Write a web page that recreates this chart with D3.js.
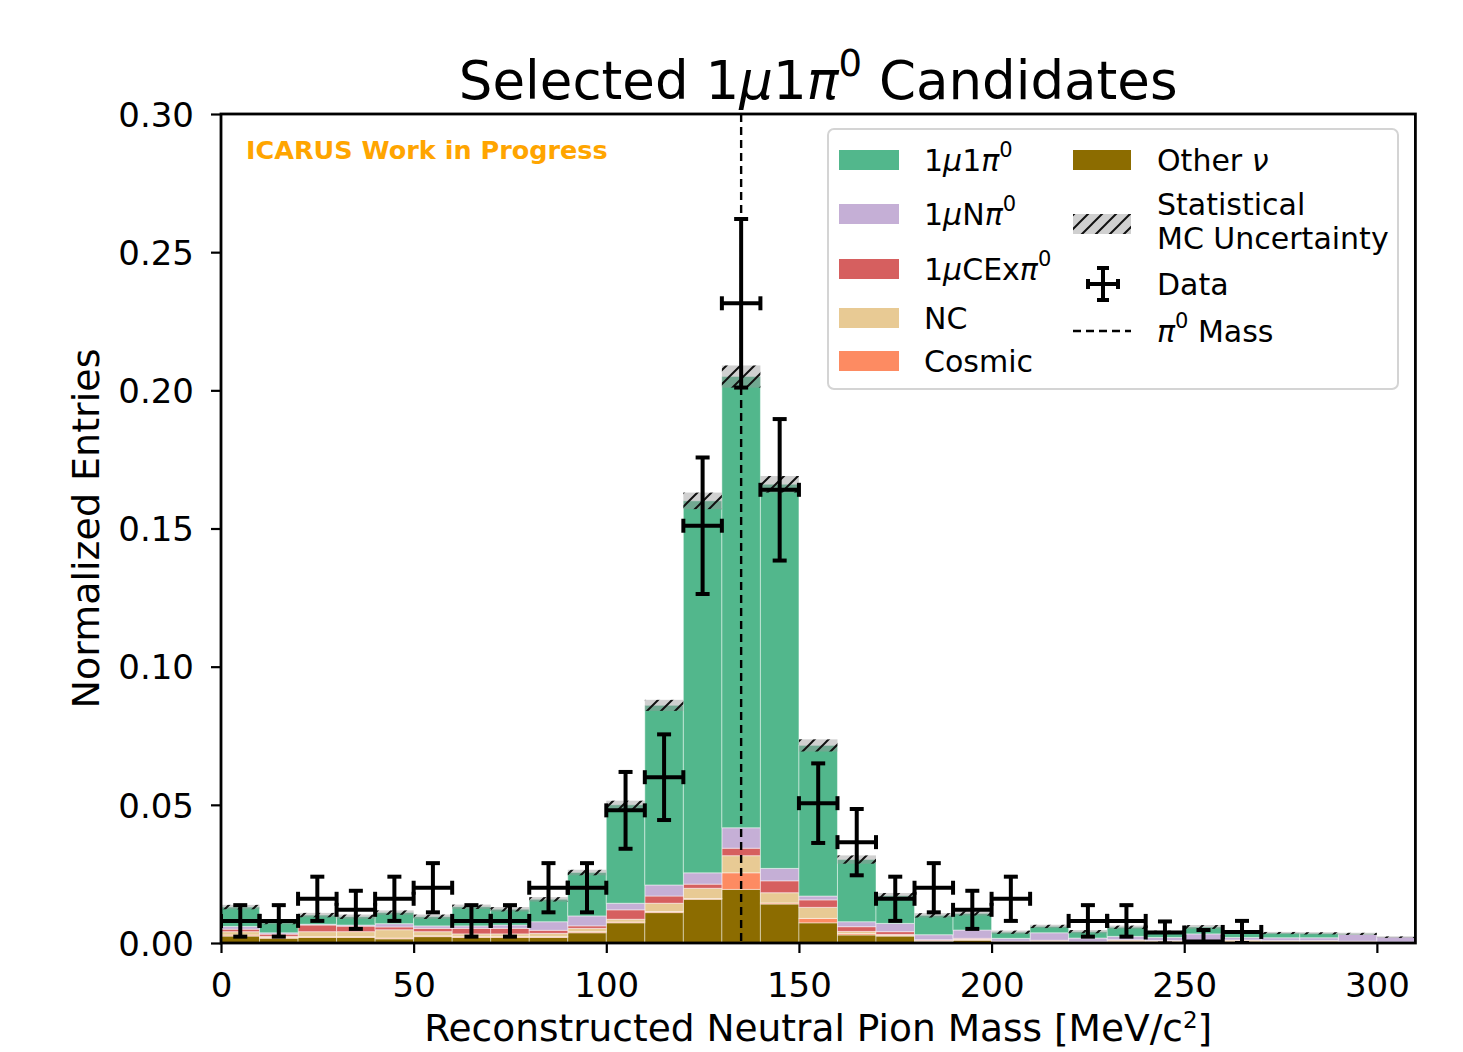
<!DOCTYPE html>
<html>
<head>
<meta charset="utf-8">
<script src="https://cdn.jsdelivr.net/npm/d3@7"></script>
<style>
  html, body { margin: 0; padding: 0; background: #fff; }
  svg { display: block; font-family: "DejaVu Sans", sans-serif; }
</style>
</head>
<body>
<svg id="chart" width="1463" height="1052"></svg>
<script>
// Bin lower edges (MeV/c^2), 10 MeV wide
const binLow = d3.range(0, 310, 10);
const binWidth = 10;

// MC stack components per bin (normalized entries)
const otherNu = [.0025,.0017,.0020,.0020,.0015,.0023,.0020,.0020,.0020,.0037,.0073,.0110,.0158,.0194,.0141,.0073,.0029,.0025,.0006,.0010,.0002,.0004,.0002,.0004,.0003,.0004,.0003,.0002,.0002,.0002,.0001];
const cosmic  = [.0004,.0003,.0003,.0003,.0003,.0003,.0004,.0004,.0003,.0004,.0003,.0004,.0003,.0060,.0004,.0016,.0005,.0003,.0000,.0002,.0000,.0000,.0000,.0000,.0000,.0000,.0000,.0000,.0000,.0000,.0000];
const nc      = [.0012,.0004,.0018,.0018,.0030,.0015,.0009,.0009,.0012,.0012,.0010,.0030,.0037,.0062,.0037,.0040,.0008,.0003,.0003,.0002,.0003,.0004,.0002,.0006,.0005,.0003,.0007,.0006,.0006,.0004,.0002];
const cex     = [.0009,.0008,.0024,.0020,.0010,.0012,.0020,.0020,.0011,.0009,.0034,.0026,.0015,.0027,.0043,.0027,.0017,.0010,.0003,.0003,.0002,.0002,.0001,.0002,.0001,.0001,.0001,.0001,.0001,.0001,.0001];
const nPi0    = [.0010,.0005,.0003,.0004,.0012,.0009,.0009,.0012,.0031,.0036,.0024,.0040,.0041,.0074,.0045,.0014,.0018,.0030,.0018,.0030,.0010,.0027,.0013,.0012,.0011,.0025,.0009,.0010,.0010,.0024,.0017];
const signal  = [.0070,.0038,.0033,.0030,.0040,.0033,.0069,.0057,.0081,.0157,.0356,.0650,.1346,.1633,.1390,.0545,.0225,.0100,.0070,.0060,.0022,.0023,.0023,.0033,.0020,.0025,.0018,.0017,.0016,.0002,.0000];

// Statistical MC uncertainty on the stacked total
const mcErr   = [.0008,.0007,.0008,.0008,.0008,.0008,.0008,.0008,.0008,.0010,.0015,.0020,.0030,.0040,.0030,.0022,.0015,.0010,.0008,.0008,.0006,.0006,.0006,.0006,.0005,.0007,.0005,.0004,.0004,.0004,.0003];

// Data points and their errors (null = empty bin)
const dataVal = [.008,.008,.016,.012,.016,.020,.008,.008,.020,.020,.048,.060,.151,.2315,.164,.0506,.0365,.016,.020,.012,.016,null,.008,.008,.0038,.0005,.004,null,null,null,null];
const dataErr = [.0057,.0057,.008,.0069,.008,.0089,.0057,.0057,.0089,.0089,.0139,.0155,.0247,.0305,.0256,.0144,.012,.008,.0089,.0069,.008,null,.0057,.0057,.004,.0042,.004,null,null,null,null];

const xTicks = [0, 50, 100, 150, 200, 250, 300];
const yTicks = [0, 0.05, 0.10, 0.15, 0.20, 0.25, 0.30];
const pi0Mass = 135;

const keys = ["other", "cosmic", "nc", "cex", "npi", "sig"];
const colors = {
  sig: "#52b78c", npi: "#c5afd6", cex: "#d65f5f",
  nc: "#e8ca94", cosmic: "#fd8b62", other: "#8c6c00"
};

const rows = binLow.map((b, i) => ({
  x0: b, other: otherNu[i], cosmic: cosmic[i], nc: nc[i],
  cex: cex[i], npi: nPi0[i], sig: signal[i],
  err: mcErr[i], d: dataVal[i], de: dataErr[i]
}));

const svg = d3.select("#chart");
const L = 221, R = 1415.4, T = 114, B = 943;
const x = d3.scaleLinear().domain([0, 310]).range([L, R]);
const y = d3.scaleLinear().domain([0, 0.30]).range([B, T]);

// hatch pattern for uncertainty band
const defs = svg.append("defs");
const pat = defs.append("pattern").attr("id", "hatch")
  .attr("patternUnits", "userSpaceOnUse").attr("width", 14).attr("height", 14);
pat.append("rect").attr("width", 14).attr("height", 14).attr("fill", "rgba(150,150,150,0.45)");
pat.append("path").attr("d", "M-3,3 l6,-6 M0,14 l14,-14 M11,17 l6,-6")
  .attr("stroke", "#111").attr("stroke-width", 2);
defs.append("clipPath").attr("id", "plotClip")
  .append("rect").attr("x", L).attr("y", T).attr("width", R - L).attr("height", B - T);

const plot = svg.append("g").attr("clip-path", "url(#plotClip)");

// stacked MC histogram
const series = d3.stack().keys(keys)(rows);
plot.selectAll("g.layer").data(series).join("g").attr("class", "layer")
  .attr("fill", d => colors[d.key])
  .selectAll("rect").data(d => d).join("rect")
  .attr("x", d => x(d.data.x0))
  .attr("width", d => x(d.data.x0 + binWidth) - x(d.data.x0))
  .attr("y", d => y(d[1]))
  .attr("height", d => Math.max(0, y(d[0]) - y(d[1])))
  .attr("stroke", "rgba(255,255,255,0.45)").attr("stroke-width", 1);

// statistical MC uncertainty band
const total = r => keys.reduce((s, k) => s + r[k], 0);
plot.selectAll("rect.unc").data(rows).join("rect").attr("class", "unc")
  .attr("x", d => x(d.x0))
  .attr("width", d => x(d.x0 + binWidth) - x(d.x0))
  .attr("y", d => y(total(d) + d.err))
  .attr("height", d => y(total(d) - d.err) - y(total(d) + d.err))
  .attr("fill", "url(#hatch)");

// pi0 mass line
plot.append("line").attr("x1", x(pi0Mass)).attr("x2", x(pi0Mass))
  .attr("y1", T).attr("y2", B)
  .attr("stroke", "#000").attr("stroke-width", 2.4).attr("stroke-dasharray", "8,5");

// data with error bars
const pts = rows.filter(r => r.d !== null);
const eb = plot.selectAll("g.data").data(pts).join("g").attr("class", "data")
  .attr("stroke", "#000").attr("stroke-width", 4);
const cx = d => x(d.x0 + binWidth / 2);
eb.append("line").attr("x1", d => x(d.x0)).attr("x2", d => x(d.x0 + binWidth))
  .attr("y1", d => y(d.d)).attr("y2", d => y(d.d));
eb.append("line").attr("x1", cx).attr("x2", cx)
  .attr("y1", d => y(d.d - d.de)).attr("y2", d => y(d.d + d.de));
const capH = 7, capW = 7;
eb.append("line").attr("x1", d => cx(d) - capW).attr("x2", d => cx(d) + capW)
  .attr("y1", d => y(d.d + d.de)).attr("y2", d => y(d.d + d.de));
eb.append("line").attr("x1", d => cx(d) - capW).attr("x2", d => cx(d) + capW)
  .attr("y1", d => y(d.d - d.de)).attr("y2", d => y(d.d - d.de));
eb.append("line").attr("x1", d => x(d.x0)).attr("x2", d => x(d.x0))
  .attr("y1", d => y(d.d) - capH).attr("y2", d => y(d.d) + capH);
eb.append("line").attr("x1", d => x(d.x0 + binWidth)).attr("x2", d => x(d.x0 + binWidth))
  .attr("y1", d => y(d.d) - capH).attr("y2", d => y(d.d) + capH);

// axes
const xAxis = svg.append("g").attr("transform", `translate(0,${B})`)
  .call(d3.axisBottom(x).tickValues(xTicks).tickSize(10).tickPadding(8).tickFormat(d3.format("d")));
const yAxis = svg.append("g").attr("transform", `translate(${L},0)`)
  .call(d3.axisLeft(y).tickValues(yTicks).tickSize(10).tickPadding(17).tickFormat(d3.format(".2f")));
[xAxis, yAxis].forEach(a => {
  a.select(".domain").remove();
  a.selectAll(".tick line").attr("stroke", "#000").attr("stroke-width", 2.2);
  a.selectAll(".tick text").attr("font-size", 34).attr("fill", "#000")
    .attr("font-family", "DejaVu Sans");
});
xAxis.selectAll(".tick text").attr("y", 54).attr("dy", 0);
yAxis.selectAll(".tick text").attr("dy", "0.36em");

svg.append("rect").attr("x", L).attr("y", T).attr("width", R - L).attr("height", B - T)
  .attr("fill", "none").attr("stroke", "#000").attr("stroke-width", 2.8);

// labels
const title = svg.append("text").attr("x", (L + R) / 2).attr("y", 99)
  .attr("text-anchor", "middle").attr("font-size", 53).attr("fill", "#000");
title.append("tspan").text("Selected 1");
title.append("tspan").attr("font-style", "italic").text("μ");
title.append("tspan").text("1");
title.append("tspan").attr("font-style", "italic").text("π");
title.append("tspan").attr("font-size", 37).attr("dy", -23).text("0");
title.append("tspan").attr("dy", 23).text(" Candidates");

svg.append("text").attr("transform", `translate(99,${(T + B) / 2 + 0}) rotate(-90)`)
  .attr("text-anchor", "middle").attr("font-size", 38).text("Normalized Entries");

const xl = svg.append("text").attr("x", (L + R) / 2).attr("y", 1041)
  .attr("text-anchor", "middle").attr("font-size", 37.5);
xl.append("tspan").text("Reconstructed Neutral Pion Mass [MeV/c");
xl.append("tspan").attr("font-size", 23).attr("dy", -13).text("2");
xl.append("tspan").attr("dy", 13).text("]");

svg.append("text").attr("x", 246).attr("y", 159).attr("font-size", 25.5)
  .attr("font-weight", "bold").attr("fill", "#ffa500").text("ICARUS Work in Progress");

// legend
const lg = svg.append("g");
lg.append("rect").attr("x", 828).attr("y", 129).attr("width", 570).attr("height", 260)
  .attr("rx", 6).attr("fill", "rgba(255,255,255,0.85)").attr("stroke", "#d4d4d4").attr("stroke-width", 2);

function mathLabel(sel, parts) {
  parts.forEach(p => {
    const t = sel.append("tspan").text(p.t);
    if (p.i) t.attr("font-style", "italic");
    if (p.sup) t.attr("font-size", 21).attr("dy", -14);
    if (p.down) t.attr("dy", 14);
  });
}
const leftEntries = [
  { key: "sig", y: 160, parts: [{t:"1"},{t:"μ",i:1},{t:"1"},{t:"π",i:1},{t:"0",sup:1}] },
  { key: "npi", y: 214, parts: [{t:"1"},{t:"μ",i:1},{t:"N"},{t:"π",i:1},{t:"0",sup:1}] },
  { key: "cex", y: 269, parts: [{t:"1"},{t:"μ",i:1},{t:"CEx"},{t:"π",i:1},{t:"0",sup:1}] },
  { key: "nc", y: 318, parts: [{t:"NC"}] },
  { key: "cosmic", y: 361, parts: [{t:"Cosmic"}] }
];
leftEntries.forEach(e => {
  lg.append("rect").attr("x", 839).attr("y", e.y - 10).attr("width", 60).attr("height", 20)
    .attr("fill", colors[e.key]);
  const t = lg.append("text").attr("x", 924).attr("y", e.y + 11).attr("font-size", 30);
  mathLabel(t, e.parts);
});
// right column
lg.append("rect").attr("x", 1073).attr("y", 150).attr("width", 58).attr("height", 20).attr("fill", colors.other);
const on = lg.append("text").attr("x", 1157).attr("y", 171).attr("font-size", 30);
on.append("tspan").text("Other ");
on.append("tspan").attr("font-style", "italic").text("ν");
lg.append("rect").attr("x", 1073).attr("y", 214).attr("width", 58).attr("height", 20).attr("fill", "url(#hatch)");
lg.append("text").attr("x", 1157).attr("y", 215).attr("font-size", 30).text("Statistical");
lg.append("text").attr("x", 1157).attr("y", 249).attr("font-size", 30).text("MC Uncertainty");
const dl = lg.append("g").attr("stroke", "#000").attr("stroke-width", 4);
dl.append("line").attr("x1", 1088).attr("x2", 1118).attr("y1", 284).attr("y2", 284);
dl.append("line").attr("x1", 1103).attr("x2", 1103).attr("y1", 268).attr("y2", 300);
dl.append("line").attr("x1", 1097).attr("x2", 1109).attr("y1", 268).attr("y2", 268);
dl.append("line").attr("x1", 1097).attr("x2", 1109).attr("y1", 300).attr("y2", 300);
dl.append("line").attr("x1", 1088).attr("x2", 1088).attr("y1", 279).attr("y2", 289);
dl.append("line").attr("x1", 1118).attr("x2", 1118).attr("y1", 279).attr("y2", 289);
lg.append("text").attr("x", 1157).attr("y", 295).attr("font-size", 30).text("Data");
lg.append("line").attr("x1", 1073).attr("x2", 1131).attr("y1", 331).attr("y2", 331)
  .attr("stroke", "#000").attr("stroke-width", 2.4).attr("stroke-dasharray", "8,5");
const pm = lg.append("text").attr("x", 1157).attr("y", 342).attr("font-size", 30);
mathLabel(pm, [{t:"π",i:1},{t:"0",sup:1},{t:" Mass",down:1}]);
</script>
</body>
</html>
